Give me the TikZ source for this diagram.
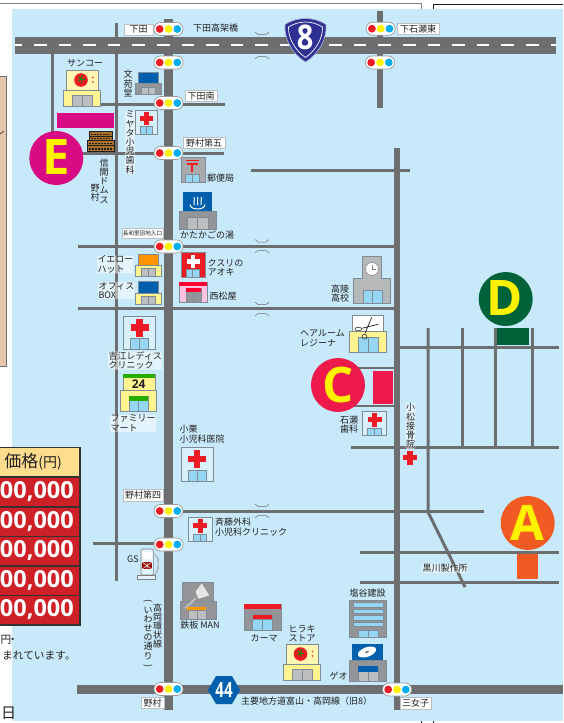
\documentclass[tikz,border=0pt]{standalone}
\usepackage{fontspec}
\setmainfont{Noto Sans CJK JP}
\newfontfamily\letterfont{Open Sans}
\definecolor{sky}{HTML}{C7E9F9}
\definecolor{road}{HTML}{6D6E70}
\definecolor{tx}{HTML}{231F20}
\definecolor{ink}{HTML}{231F20}
\definecolor{sred}{HTML}{ED1C24}
\definecolor{syel}{HTML}{FFF200}
\definecolor{sblu}{HTML}{00AEEF}
\definecolor{pale}{HTML}{FFF48F}
\definecolor{bgray}{HTML}{939598}
\definecolor{lgray}{HTML}{BCBEC0}
\definecolor{dblue}{HTML}{0060AE}
\definecolor{glass}{HTML}{96D6F5}
\definecolor{edge}{HTML}{7F8C96}
\definecolor{tan}{HTML}{E5C8AC}
\definecolor{thead}{HTML}{FEDE8E}
\definecolor{trow}{HTML}{CD2027}
\definecolor{siteE}{HTML}{D80A84}
\definecolor{siteD}{HTML}{006239}
\definecolor{siteC}{HTML}{ED1A4B}
\definecolor{siteA}{HTML}{F15A22}
\definecolor{navy}{HTML}{2E3192}
\definecolor{wood}{HTML}{A8722A}
\tikzset{
  x=1pt,y=-1pt,
  rd/.style={road,line width=#1},
  lab/.style={text=tx,inner sep=0,font=\fontsize{9}{9.5}\selectfont},
  lableft/.style={lab,align=left},
  halo/.style={lab,align=left,fill=white,fill opacity=.5,text opacity=1,inner sep=.3,rounded corners=1},
  vlab/.style={lab,align=center,font=\fontsize{9}{9.2}\selectfont},
  vhalo/.style={halo,align=center,font=\fontsize{9}{9.2}\selectfont},
  plate/.style={draw=lgray,line width=.7,fill=white,text=tx,inner sep=0,font=\fontsize{9}{9}\selectfont},
  pill/.style={draw=gray!80,line width=.7,fill=white,rounded corners=6.4,minimum width=29,minimum height=13,inner sep=0},
  big/.style={text=syel,inner sep=0,font=\letterfont\bfseries\fontsize{49}{49}\selectfont},
  mono/.style={text=white,inner sep=0},
  rowtext/.style={text=white,inner sep=0,anchor=east,font=\letterfont\bfseries\fontsize{23.5}{23.5}\selectfont},
  bld/.style={draw=edge,line width=.6},
  bridge/.style={draw=road,line width=.5}
}
\newcommand{\sig}[3]{%
  \node[pill] (#1) at (#2,#3) {};
  \fill[sred] ({#2-8.8},#3) circle (3.9);
  \fill[syel] ({#2},#3) circle (3.9);
  \fill[sblu] ({#2+8.8},#3) circle (3.9);}
\newcommand{\bx}[5]{\filldraw[bld,fill=#1] ({#2},{#3}) rectangle ({#4},{#5});}
\newcommand{\door}[5]{\filldraw[bld,fill=#1] ({#2},{#3}) rectangle ({#4},{#5});
  \draw[edge,line width=.6] ({((#2)+(#4))/2},{#3}) -- ({((#2)+(#4))/2},{#5});}
\newcommand{\crossmark}[4]{%
  \fill[#4] ({#1-#3/2},{#2-.18*#3}) rectangle ({#1+#3/2},{#2+.18*#3});
  \fill[#4] ({#1-.18*#3},{#2-#3/2}) rectangle ({#1+.18*#3},{#2+#3/2});}
\newcommand{\clinic}[5]{%
  \filldraw[edge,line width=.6,fill=sky!70!white] (#1,#2) rectangle (#3,#4);
  \crossmark{(#1+#3)/2}{#2+.35*(#4-#2)}{#5}{sred}
  \door{glass}{#1+.225*(#3-#1)}{#4-.32*(#4-#2)}{#3-.225*(#3-#1)}{#4}}
\newcommand{\tomato}[2]{% sign top-left x,y
  \filldraw[bld,fill=pale!70!white] (#1,#2) rectangle ({#1+32},{#2+20});
  \fill[sred] ({#1+14.5},{#2+10}) circle (6.8);
  \foreach \a in {0,72,144,216,288}{\draw[green!55!black,line width=.9] ({#1+14.5},{#2+9}) -- ++(\a:3.8);}
  \fill[sred] ({#1+26.5},{#2+7.5}) circle (.9);
  \fill[sred] ({#1+26.5},{#2+12}) circle (.9);
  \bx{pale}{#1-3}{#2+20}{#1+34}{#2+36.5}
  \door{lgray}{#1+6}{#2+25.5}{#1+26}{#2+36.5}}
\newcommand{\bridgepair}[2]{%
  \draw[bridge] (255,{#1}) -- (258,{#1+2.5}) -- (266,{#1+2.5}) -- (269,{#1});
  \draw[bridge] (255,{#2}) -- (258,{#2-2.5}) -- (266,{#2-2.5}) -- (269,{#2});}
\begin{document}
\begin{tikzpicture}
\useasboundingbox (0,0) rectangle (563,723);
\fill[white] (0,0) rectangle (563,723);
% sky
\fill[sky] (12,9) rectangle (563,721);
% top frames
\draw[gray,line width=1.3] (-2,3.5) -- (421.7,3.5) -- (421.7,9);
\draw[ink,line width=1] (563,4) -- (433.5,4) -- (433.5,9);
\draw[ink,line width=.7] (421.7,721) -- (421.7,723);
\draw[ink,line width=.7] (433.5,721) -- (433.5,723);
% tan side panel
\filldraw[draw=road,line width=1,fill=tan] (-2,76) rectangle (6,366);
\draw[ink,line width=.6] (0,134) -- (4,131);
% thin roads
\draw[rd=3] (52.5,54) -- (52.5,140);
\draw[rd=3] (116.5,23) -- (116.5,581);
\draw[rd=3] (100,104) -- (225,104);
\draw[rd=3] (80,153.5) -- (224,153.5);
\draw[rd=3] (251,170.5) -- (410,170.5);
\draw[rd=3] (78,246) -- (394,246);
\draw[rd=3] (78,308.5) -- (394,308.5);
\draw[rd=2.7] (340,368) -- (394,368);
\draw[rd=2.7] (340,406) -- (394,406);
\draw[rd=3] (394,347.3) -- (559,347.3);
\draw[rd=3] (351,447) -- (559,447);
\draw[rd=3] (428,328) -- (428,512) -- (465,587);
\draw[rd=3] (462.5,328) -- (462.5,447);
\draw[rd=3] (495.5,328) -- (495.5,447);
\draw[rd=3] (532.5,328) -- (532.5,447);
\draw[rd=3] (173,511.5) -- (484,511.5);
\draw[rd=3] (360,552) -- (559,552);
\draw[rd=3] (360,582) -- (559,582);
\draw[rd=3] (93,543.5) -- (164,543.5);
% main roads
\draw[rd=9] (168.5,19) -- (168.5,710);
\draw[rd=6] (397,148) -- (397,710);
\draw[rd=6] (380,11) -- (380,108);
\draw[rd=9] (77,689.5) -- (563,689.5);
\fill[road] (15,37) rectangle (556,54);
\draw[white,line width=1.5,dash pattern=on 12.5 off 12.1,dash phase=5.6] (15,45) -- (556,45);
% bridges
\bridgepair{32}{59}
\bridgepair{239.5}{253}
\bridgepair{302}{316}
\bridgepair{504}{518}
% route markers
\filldraw[draw=navy!40!white,line width=.7,fill=navy] (285,24.5) .. controls (292,20) and (299,18.5) .. (305.5,18.5) .. controls (312,18.5) and (319,20) .. (326,24.5) .. controls (327,40) and (318,54.5) .. (305.5,62) .. controls (293,54.5) and (284,40) .. (285,24.5) -- cycle;
\draw[white,line width=.7] (288.5,27) .. controls (294,23.5) and (300,22) .. (305.5,22) .. controls (311,22) and (317,23.5) .. (322.5,27) .. controls (323,39) and (315,51) .. (305.5,57.5) .. controls (296,51) and (288,39) .. (288.5,27) -- cycle;
\node[mono,font=\letterfont\bfseries\fontsize{34}{34}\selectfont] (r8) at (305,37.5) {\scalebox{.85}[1]{8}};
\fill[dblue] (208,690) -- (216,676) -- (232,676) -- (240,690) -- (232,704) -- (216,704) -- cycle;
\node[mono,font=\letterfont\bfseries\fontsize{21}{21}\selectfont] (r44) at (224,690) {\scalebox{.72}[1]{44}};
% sites
\fill[siteE] (57,113) rectangle (114,128);
\fill[siteE] (56.3,158) circle (27);
\node[big] (E) at (56,157.5) {E};
\fill[siteD] (497,328) rectangle (529,345);
\fill[siteD] (505.7,299) circle (27);
\node[big] (D) at (505,298.5) {D};
\fill[siteC] (373,371) rectangle (393,404);
\fill[siteC] (338,385) circle (27);
\node[big] (C) at (338,384.5) {C};
\fill[siteA] (517,554) rectangle (538,579);
\fill[siteA] (527.7,523) circle (27);
\node[big] (A) at (527.7,522.5) {A};
% buildings
\tomato{66.5}{70}
\tomato{286}{644}
% bunkodo
\bx{dblue}{138}{72}{158}{84}
\bx{bgray}{135}{83.5}{161}{94}
\door{lgray}{141}{87}{155}{94}
% shinkai domus stack
\foreach \ya/\yb/\xa/\xb in {131.7/136/89/112,136/140/89/112,140/145.5/87.3/114,145.5/151/87.3/114}{
 \filldraw[fill=wood,draw=ink,line width=.5] (\xa,\ya) rectangle (\xb,\yb);
 \draw[ink,line width=1.3,dash pattern=on 1.5 off 1.5] ({\xa+2},{(\ya+\yb)/2+.6}) -- ({\xb-2},{(\ya+\yb)/2+.6});}
% clinics
\clinic{135.5}{110}{157.5}{134}{13}
\clinic{123.5}{316}{155.5}{349}{18}
\clinic{181}{447}{213.5}{481}{18}
\clinic{188.5}{517}{212}{541.7}{14}
\clinic{362.3}{411}{386.7}{435.7}{14}
\crossmark{410}{457.5}{14}{sred}
% post office
\bx{bgray!80!white}{181}{157}{205}{182}
\draw[sred,line width=1.3] (185.5,160.5) -- (198.5,160.5) (186.5,164) -- (197.5,164) (192,164) -- (192,172);
\door{glass}{185.5}{174}{199}{182}
% onsen
\fill[dblue] (183,192) rectangle (212,212);
\begin{scope}[white,line width=1]
\draw (190,204.5) .. controls (190,210.5) and (205,210.5) .. (205,204.5);
\foreach \dx in {-3.5,0,3.5}{
 \draw ({197.5+\dx},205) .. controls ({196+\dx},202.5) and ({199+\dx},200.5) .. ({197.5+\dx},197);}
\end{scope}
\bx{bgray}{179.5}{211}{216}{229}
\door{lgray}{187}{217}{208}{229}
% yellow hat / office box
\bx{orange!85!yellow}{138}{254}{158}{265}
\bx{pale}{135.5}{265}{161}{276}
\door{lgray}{141}{268.5}{155}{276}
\bx{dblue}{138}{281}{158}{293}
\bx{pale}{135.5}{293}{161}{304}
\door{lgray}{141}{296.5}{155}{304}
% aoki
\bx{sred}{181}{252.7}{205}{277.7}
\crossmark{193}{261.5}{13}{white}
\door{glass}{186.5}{269.5}{199}{277.7}
% nishimatsuya
\bx{pink!80!magenta!60!white}{179}{282}{207}{302}
\fill[red!80!magenta] (179,282) rectangle (207,286);
\door{bgray}{186}{288}{201}{302}
\fill[red!80!magenta] (186,288) rectangle (201,292);
% high school
\filldraw[bld,fill=lgray!90!gray] (362.7,256.7) -- (381,256.7) -- (381,278) -- (390.7,278) -- (390.7,303) -- (353.3,303) -- (353.3,278) -- (362.7,278) -- cycle;
\filldraw[draw=gray,line width=.5,fill=white] (372,269) circle (6.5);
\draw[gray,line width=.6] (372,265) -- (372,269) -- (376,269);
\door{glass}{363}{290.5}{382}{303}
% hair salon
\bx{white}{352.5}{315.5}{383.5}{332}
\bx{pale}{349.5}{331.5}{386.5}{352.5}
\door{glass}{358}{337.5}{378}{352.5}
\draw[ink,line width=.7] (371.7,317.3) -- (365,333.3) (378.3,324.3) -- (361.7,328.3);
\draw[ink,line width=.5] (358.3,329) ellipse (3.4 and 1.8);
\draw[ink,line width=.5] (364.5,336.7) circle (2.5);
% familymart
\bx{pale}{123}{374.3}{155}{390}
\fill[green!60!black!80!lime] (123,374.3) rectangle (155,378);
\node[text=ink,inner sep=0,font=\letterfont\bfseries\fontsize{12}{12}\selectfont] (fm24) at (138.7,384) {24};
\bx{pale}{120.3}{390}{156.7}{411.5}
\door{glass}{129}{396}{148}{411.5}
\fill[green!60!black!80!lime] (129,396) rectangle (148,401);
% GS
\filldraw[draw=gray,line width=.6,fill=sky!50!white,rounded corners=2] (141,549) rectangle (153.3,575);
\filldraw[draw=gray,line width=.6,fill=sky!50!white] (137.7,575) rectangle (155,579);
\fill[white] (141.7,552.3) rectangle (151.7,559);
\fill[red!60!black] (142.3,562.3) rectangle (151.7,569);
\draw[white,line width=.5] (142.3,562.3) -- (151.7,569) (142.3,569) -- (151.7,562.3) (147,562.3) -- (147,569);
\draw[road,line width=1.1] (153.3,554) .. controls (159,556) and (159,562) .. (158,568) .. controls (157.5,572) and (156,574) .. (154,575);
\draw[white,line width=.4] (153.3,554) .. controls (159,556) and (159,562) .. (158,568) .. controls (157.5,572) and (156,574) .. (154,575);
% teppan
\bx{bgray}{182.7}{582.3}{213.7}{601.7}
\bx{bgray}{180.7}{601.7}{216.7}{619}
\draw[gray!50!white,line width=1.8] (196,598) -- (185,608.3);
\filldraw[draw=gray,line width=.5,fill=gray!20!white] (201.7,582.3) -- (210,595.7) -- (198.3,599.3) -- (195,591.7) -- cycle;
\fill[orange!80!yellow] (187.3,607.3) rectangle (206,610.7);
\door{lgray}{188.3}{610.7}{206.7}{619}
% kama
\bx{bgray}{244}{604}{281}{630}
\fill[sred] (244,604) rectangle (281,608.5);
\door{glass}{252}{614}{272}{630}
\filldraw[bld,fill=sred] (252,614) rectangle (272,619);
% shioya
\bx{bgray}{349.3}{600}{386}{637.7}
\foreach \yy in {602.7,609,615.5,622}{\filldraw[bld,fill=glass] (353,\yy) rectangle (383,{\yy+4.4});}
\door{glass}{358}{630.5}{378}{637.7}
% geo
\fill[dblue] (352,644) rectangle (383,660);
\fill[white,rotate around={20:(367,652)}] (367,652) ellipse (9.5 and 4.8);
\fill[gray,rotate around={20:(367,652)}] (367,652) ellipse (2 and 1);
\bx{bgray}{349.3}{660}{386}{681}
\door{lgray}{358}{666}{378}{681}
\fill[dblue] (358,666) rectangle (378,672);
% signals
\sig{s1}{168.5}{29}
\sig{s2}{168.5}{62.5}
\sig{s3}{168.5}{103}
\sig{s4}{168.5}{153}
\sig{s5}{168.5}{246.5}
\sig{s6}{168.5}{511}
\sig{s7}{168.5}{544.5}
\sig{s8}{168.5}{689}
\sig{s9}{380.7}{28.7}
\sig{s10}{380}{62.5}
\sig{s11}{397}{689.5}
% plates
\node[plate,minimum width=29,minimum height=11] (p1) at (138.5,29.7) {下田};
\node[plate,minimum width=32,minimum height=10.5] (p2) at (201,96) {下田南};
\node[plate,minimum width=42,minimum height=11] (p3) at (204,143.3) {野村第五};
\node[plate,minimum width=41,minimum height=10.5,font=\fontsize{5.6}{5.6}\selectfont] (p4) at (142.5,233.5) {長和里団地入口};
\node[plate,minimum width=42,minimum height=11] (p5) at (418,29) {下石瀬東};
\node[plate,minimum width=40,minimum height=12] (p6) at (143,495) {野村第四};
\node[plate,minimum width=23,minimum height=11] (p7) at (152.5,702.7) {野村};
\node[plate,minimum width=31.5,minimum height=12] (p8) at (415.7,703) {三女子};
% labels
\node[lab] (t1) at (215.5,28) {下田高架橋};
\node[lab] (t2) at (85,63.5) {サンコー};
\node[vlab] (t3) at (128,83.5) {文\\苑\\堂};
\node[vhalo] (t4) at (130,142.5) {ミ\\ヤ\\タ\\小\\児\\歯\\科};
\node[vlab] (t5) at (104,181) {信\\開\\ド\\ム\\ス};
\node[vlab] (t6) at (95,193) {野\\村};
\node[lab] (t7) at (220.5,178) {郵便局};
\node[lab] (t8) at (207,235) {かたかごの湯};
\node[halo,anchor=west] (t9) at (97,264.5) {イエロー\\ハット};
\node[halo,anchor=west] (t10) at (98,290.5) {オフィス\\BOX};
\node[lableft,anchor=west] (t11) at (207.5,267.5) {クスリの\\アオキ};
\node[lab] (t12) at (223,296) {西松屋};
\node[halo,anchor=west] (t13) at (108,360.5) {吉江レディス\\クリニック};
\node[halo,anchor=west] (t14) at (110,423.5) {ファミリー\\マート};
\node[lableft,anchor=west] (t15) at (179.5,434) {小栗\\小児科医院};
\node[lableft,anchor=west] (t16) at (331,293.5) {高陵\\高校};
\node[lableft,anchor=west] (t17) at (300,338) {ヘアルーム\\レジーナ};
\node[lableft,anchor=west] (t18) at (340,424.5) {石瀬\\歯科};
\node[vhalo] (t19) at (410.5,426) {小\\松\\接\\骨\\院};
\node[lableft,anchor=west] (t20) at (215,527) {斉藤外科\\小児科クリニック};
\node[lab] (t21) at (133,559.5) {GS};
\node[lab] (t22) at (200,625.5) {鉄板 MAN};
\node[lab] (t23) at (264,638) {カーマ};
\node[lab,align=center] (t24) at (302,633.5) {ヒラキ\\ストア};
\node[lab] (t25) at (367.5,593.5) {塩谷建設};
\node[lab] (t26) at (338.5,676) {ゲオ};
\node[halo] (t27) at (445,568.5) {黒川製作所};
\node[lab,anchor=west] (t28) at (241,701) {主要地方道富山・高岡線（旧8）};
\node[vlab] (t29) at (157.5,626) {高\\岡\\環\\状\\線};
\node[vlab] (t30) at (148,634) {\rotatebox[origin=c]{-90}{(}\\い\\わ\\せ\\の\\通\\り\\\rotatebox[origin=c]{-90}{)}};
% table
\filldraw[draw=ink!80!gray,line width=1.4,fill=thead] (-3,447.5) rectangle (80,477);
\node[text=tx,inner sep=0,anchor=east] (thd) at (62,462) {\fontsize{17}{17}\selectfont 価格\fontsize{14}{14}\selectfont (円)};
\foreach \ya/\yb/\nm in {477/507/r1,507/536.5/r2,536.5/566/r3,566/595.5/r4,595.5/625/r5}{
  \filldraw[draw=ink!80!gray,line width=1.2,fill=trow] (-3,\ya) rectangle (80,\yb);
  \node[rowtext] (\nm) at (74,{(\ya+\yb)/2-.5}) {00,000};
}
\node[text=tx,inner sep=0,anchor=west,font=\fontsize{10.7}{10.7}\selectfont] (n1) at (.5,640) {円\hspace{-4pt}・};
\node[text=tx,inner sep=0,anchor=west,font=\fontsize{10.7}{10.7}\selectfont] (n2) at (2,656) {まれています。};
\node[text=tx,inner sep=0,anchor=west,font=\fontsize{15}{15}\selectfont] (n3) at (1,713) {日};
\end{tikzpicture}
\end{document}
